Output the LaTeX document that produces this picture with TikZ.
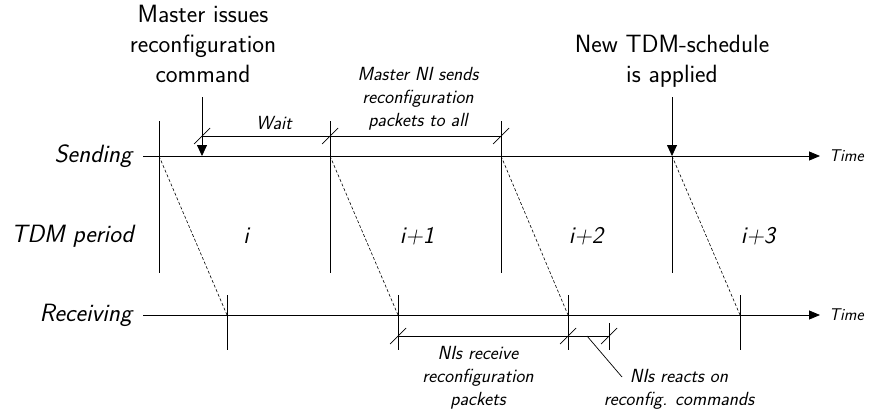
\documentclass[tikz,border=0pt]{standalone}
\usepackage{fontspec}
\usetikzlibrary{arrows.meta}

\tikzset{
  axis/.style={line width=0.8pt, -{Triangle[length=11pt,width=9pt]}},
  tick/.style={line width=0.8pt},
  slash/.style={line width=0.7pt},
  delay/.style={line width=0.6pt, dash pattern=on 3pt off 2pt},
  dimline/.style={line width=0.8pt},
  event/.style={line width=0.8pt, -{Triangle[length=11pt,width=10pt]}},
  bigtext/.style={font=\sffamily\fontsize{25}{30}\selectfont, align=center, inner sep=0pt},
  rowlabel/.style={font=\sffamily\itshape\fontsize{25}{30}\selectfont, inner sep=0pt, anchor=east},
  period/.style={font=\sffamily\itshape\fontsize{24}{28}\selectfont, inner sep=0pt},
  note/.style={font=\sffamily\itshape\fontsize{19}{23}\selectfont, align=center, inner sep=0pt},
  timelabel/.style={font=\sffamily\itshape\fontsize{17}{20}\selectfont, inner sep=0pt, anchor=west},
}

\begin{document}
\begin{tikzpicture}[x=1pt, y=-1pt]
  \useasboundingbox (0,0) rectangle (872,415);

  % --- row labels ---
  \node[rowlabel] (lsend) at (132,156) {Sending};
  \node[rowlabel] (ltdm)  at (134,236) {TDM period};
  \node[rowlabel] (lrecv) at (132,315) {Receiving};

  % --- time axes ---
  \coordinate (s0) at (143,156);
  \coordinate (s1) at (820,156);
  \coordinate (r0) at (143,315);
  \coordinate (r1) at (820,315);
  \draw[axis] (s0) -- (s1);
  \draw[axis] (r0) -- (r1);
  \node[timelabel] (tsend) at (829,156) {Time};
  \node[timelabel] (trecv) at (829,315) {Time};

  % --- period boundaries on the sending side ---
  \foreach \n/\x in {1/159, 2/330, 3/501} {
    \coordinate (st\n) at (\x,121);
    \coordinate (sb\n) at (\x,273);
    \coordinate (sa\n) at (\x,156);
    \draw[tick] (st\n) -- (sb\n);
  }
  \coordinate (sa4) at (672,156);
  \coordinate (sb4) at (672,273);
  \draw[tick] (sa4) -- (sb4);

  % --- period boundaries on the receiving side ---
  \foreach \n/\x in {1/227, 2/398, 3/568, 4/740} {
    \coordinate (rt\n) at (\x,295);
    \coordinate (rb\n) at (\x,350);
    \coordinate (ra\n) at (\x,315);
    \draw[tick] (rt\n) -- (rb\n);
  }

  % --- propagation delay ---
  \foreach \n in {1,2,3,4} {
    \draw[delay] (sa\n) -- (ra\n);
  }

  % --- period indices ---
  \node[period] (p0) at (246,236) {i};
  \node[period] (p1) at (417,236) {i+1};
  \node[period] (p2) at (586,236) {i+2};
  \node[period] (p3) at (758,236) {i+3};

  % --- master command event ---
  \node[bigtext] (master) at (203,44) {Master issues\\reconfiguration\\command};
  \coordinate (mtop) at (202,97);
  \coordinate (mcmd) at (202,156);
  \draw[event] (mtop) -- (mcmd);

  % --- new schedule event ---
  \node[bigtext] (newtdm) at (672,61) {New TDM-schedule\\is applied};
  \coordinate (ntop) at (672,97);
  \draw[event] (ntop) -- (sa4);

  % --- wait / send intervals ---
  \coordinate (w0) at (202,136);
  \coordinate (w1) at (330,136);
  \coordinate (w2) at (501,136);
  \draw[dimline] (w0) -- (w2);
  \foreach \p in {w0,w1,w2} {
    \draw[slash] ([shift={(-8,8)}]\p) -- ([shift={(8,-8)}]\p);
  }
  \node[note] (wait) at (274,123) {Wait};
  \node[note] (sends) at (418,99) {Master NI sends\\reconfiguration\\packets to all};

  % --- receive / react intervals ---
  \coordinate (k0) at (398,336);
  \coordinate (k1) at (568,336);
  \coordinate (k2) at (609,336);
  \coordinate (k2t) at (609,323);
  \coordinate (k2b) at (609,350);
  \draw[dimline] (k0) -- (k2);
  \draw[tick] (k2t) -- (k2b);
  \foreach \p in {k0,k1,k2} {
    \draw[slash] ([shift={(-8,8)}]\p) -- ([shift={(8,-8)}]\p);
  }
  \node[note] (recv) at (478,378) {NIs receive\\reconfiguration\\packets};
  \node[note] (react) at (679,389) {NIs reacts on\\reconfig. commands};
  \coordinate (lead0) at (587,336);
  \coordinate (lead1) at (622,377);
  \draw[slash] (lead0) -- (lead1);
\end{tikzpicture}
\end{document}
